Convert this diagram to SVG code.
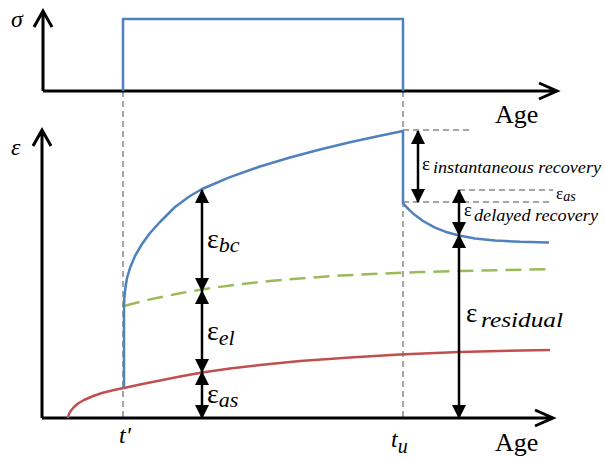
<svg xmlns="http://www.w3.org/2000/svg" width="605" height="459" viewBox="0 0 605 459">
<style>
.ax{fill:none;stroke:#000;stroke-width:3;stroke-linejoin:miter}
.guide{fill:none;stroke:#888;stroke-width:1.5;stroke-dasharray:6 4}
.blue{fill:none;stroke:#4F81BD;stroke-width:2.5;stroke-linejoin:round}
.green{fill:none;stroke:#9BBB59;stroke-width:2.5;stroke-dasharray:16 8}
.red{fill:none;stroke:#C0504D;stroke-width:2.5;stroke-linejoin:round}
.dim{stroke:#000;stroke-width:2.5;marker-start:url(#ah);marker-end:url(#ah)}
text{font-family:'Liberation Serif','Times New Roman','DejaVu Serif',serif;fill:#000}
.it{font-style:italic}
.bg{fill:#fff}
</style>
<defs>
<marker id="ah" viewBox="0 0 14 14" refX="13" refY="7" markerWidth="14" markerHeight="14" markerUnits="userSpaceOnUse" orient="auto-start-reverse">
<path d="M0,0 L14,7 L0,14 Z" fill="#000"/>
</marker>
</defs>
<rect class="bg" width="605" height="459"/>

<g id="guides">
<line class="guide" x1="123" y1="91" x2="123" y2="418"/>
<line class="guide" x1="403" y1="91" x2="403" y2="418"/>
<line class="guide" x1="403" y1="130" x2="470" y2="130"/>
<line class="guide" x1="459" y1="190" x2="553" y2="190"/>
<line class="guide" x1="403" y1="202" x2="553" y2="202"/>
</g>

<g id="stress-axes">
<path class="ax" d="M43,91 V11 M34,27 L43,11 L52,27"/>
<path class="ax" d="M43,91 H557 M539,83 L557,91 L539,99"/>
<text class="it" x="11" y="27" font-size="24">σ</text>
<text x="495" y="123" font-size="26">Age</text>
</g>

<g id="stress-pulse">
<path class="blue" d="M123,91 V19 H403 V91"/>
</g>

<g id="strain-axes">
<path class="ax" d="M42,418 V130 M33,146 L42,130 L51,146"/>
<path class="ax" d="M42,418 H553 M535,410 L553,418 L535,426"/>
<text class="it" x="11" y="155" font-size="24">ε</text>
<text x="495" y="451" font-size="26">Age</text>
<text class="it" x="119" y="443" font-size="24">t′</text>
<text class="it" x="391" y="447" font-size="24">t<tspan font-size="20" dy="6">u</tspan></text>
</g>

<g id="red-curve">
<polyline class="red" points="68,418 69,414 71,410.5 74,407 78,403.5 84,400 92,396.5 102,393 114,390 124,388 140,384.5 160,380.5 180,376.5 202,372.5 230,368.5 260,365 300,361 350,357.5 400,354.5 459,352 500,351 550,350"/>
</g>

<g id="green-curve">
<polyline class="green" points="124,306 150,299.4 180,293.2 210,288.2 240,284.2 270,281 300,278.4 340,275.6 380,273.6 420,272.1 460,270.9 505,270 550,269.3"/>
</g>

<g id="blue-curve">
<polyline class="blue" points="124,388 124,306 124.5,296 125.5,287 127,278 130,268 135,256 142,244 150,233 160,222 175,207 190,196 202,189 230,177.1 260,166.5 290,157.5 320,149.5 350,142.3 380,135.7 403,131 403,203 405,205.5 410,210.6 415,215.1 423,221 435,227.6 447,232.3 459,235.5 475,238.4 495,240.4 520,241.8 549,242.5"/>
</g>

<g id="connectors">
<line class="dim" x1="202" y1="190" x2="202" y2="291"/>
<line class="dim" x1="202" y1="291" x2="202" y2="372"/>
<line class="dim" x1="202" y1="372" x2="202" y2="418"/>
<line class="dim" x1="418" y1="131" x2="418" y2="202"/>
<line class="dim" x1="459" y1="190" x2="459" y2="235"/>
<line class="dim" x1="459" y1="235" x2="459" y2="418"/>
</g>

<g id="label-bc">
<text x="207" y="248" font-size="28">ε<tspan class="it" font-size="22" dy="4">bc</tspan></text>
</g>
<g id="label-el">
<text x="207" y="340" font-size="28">ε<tspan class="it" font-size="22" dy="5">el</tspan></text>
</g>
<g id="label-as">
<text x="207" y="403" font-size="28">ε<tspan class="it" font-size="22" dy="4">as</tspan></text>
</g>
<g id="label-inst">
<text x="422" y="170" font-size="19">ε</text>
<text class="it" x="433" y="173" font-size="16" textLength="168" lengthAdjust="spacingAndGlyphs">instantaneous recovery</text>
</g>
<g id="label-as2">
<text x="556" y="199" font-size="17">ε<tspan class="it" font-size="14" dy="2">as</tspan></text>
</g>
<g id="label-delayed">
<text x="464" y="216" font-size="18">ε</text>
<text class="it" x="474" y="221" font-size="16" textLength="124" lengthAdjust="spacingAndGlyphs">delayed recovery</text>
</g>
<g id="label-residual">
<text x="466" y="322" font-size="27">ε</text>
<text class="it" x="481" y="327" font-size="22" textLength="82" lengthAdjust="spacingAndGlyphs">residual</text>
</g>
</svg>
